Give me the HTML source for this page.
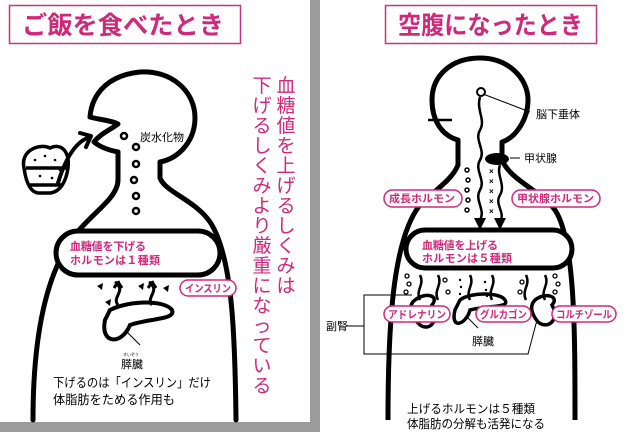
<!DOCTYPE html>
<html><head><meta charset="utf-8"><style>
body{margin:0;width:630px;height:432px;overflow:hidden;background:#fff}
svg{display:block}
text{font-family:"Liberation Sans","Noto Sans CJK JP",sans-serif}
</style></head><body>
<svg width="630" height="432" viewBox="0 0 630 432" xmlns="http://www.w3.org/2000/svg">
<rect x="0" y="0" width="630" height="432" fill="#fff"/>
<rect x="310" y="0" width="10" height="432" fill="#9b9b9b"/>
<rect x="0" y="422" width="320" height="10" fill="#9b9b9b"/>

<!-- LEFT PANEL -->
<rect x="9.5" y="5.5" width="231" height="38" fill="#fff" stroke="#c8357f" stroke-width="1.5"/>
<text x="22" y="34" font-size="25" font-weight="bold" fill="#d2287a" textLength="202" lengthAdjust="spacingAndGlyphs">ご飯を食べたとき</text>

<g fill="none" stroke="#000" stroke-width="5" stroke-linejoin="round" stroke-linecap="round">
<path d="M33,420 C33,330 48,270 75,235 C92,213 118,198 118,180 L118,152 C108,150 100,147 94,142 C100,134 110,130 118,124 C110,120 100,120 90,117 C92,92 110,75 140,72 C170,70 195,90 195,118 C195,140 180,158 160,162 L160,178 C165,192 195,200 210,222 C232,255 235,330 236,420"/>
<path d="M58,183 C68,150 80,140 90,137" stroke-width="4"/>
<path d="M80,133 L91,136 L86,147" stroke-width="4"/>
</g>
<!-- rice bowl -->
<g fill="none" stroke="#000" stroke-width="3.5">
<path d="M24,168 C20,150 40,143 50,148 C60,143 70,150 68,168 C66,182 60,192 50,193 L38,193 C30,192 26,182 24,168Z"/>
<path d="M26,168 L67,168"/>
<path d="M30,185 L62,185"/>
</g>
<g fill="#000"><circle cx="35" cy="160" r="1.3"/><circle cx="45" cy="156" r="1.3"/><circle cx="55" cy="160" r="1.3"/><circle cx="40" cy="176" r="1.3"/><circle cx="52" cy="178" r="1.3"/><circle cx="60" cy="170" r="1.3"/></g>
<g fill="none" stroke="#000" stroke-width="2.5">
<circle cx="124" cy="136" r="3"/><circle cx="136" cy="147" r="3"/><circle cx="136" cy="164" r="3"/><circle cx="134" cy="180" r="3"/><circle cx="136" cy="196" r="3"/><circle cx="136" cy="211" r="3"/>
</g>
<text x="140" y="141" font-size="11" fill="#000" textLength="44">炭水化物</text>
<rect x="56" y="231" width="164" height="44" rx="22" fill="#fff" stroke="#000" stroke-width="5"/>
<text x="70" y="250" font-size="11" font-weight="bold" fill="#d2287a" textLength="76">血糖値を下げる</text>
<text x="70" y="264" font-size="11" font-weight="bold" fill="#d2287a" textLength="90">ホルモンは１種類</text>
<g fill="none" stroke="#000" stroke-width="3">
<path d="M118,305 C112,298 124,292 118,285 C112,278 122,290 118,281"/>
<path d="M118,282 L114,288 M118,282 L122,288"/>
<path d="M152,305 C146,298 158,292 152,285 C146,278 156,290 152,281"/>
<path d="M152,282 L148,288 M152,282 L156,288"/>
<path d="M110,310 C130,300 165,300 172,310 C176,320 150,318 130,325 C122,345 100,345 105,320 Z" stroke-width="4"/>
<path d="M125,330 L140,345" stroke-width="1"/>
</g>
<g fill="#000"><path d="M97,286 l6,-3 -1,7z"/><path d="M138,286 l6,-3 -1,7z"/><path d="M163,288 l6,-3 -1,7z"/><path d="M105,302 l6,-3 -1,7z"/></g>
<rect x="180" y="280" width="56" height="16" rx="8" fill="#fff" stroke="#d2287a" stroke-width="1.5"/>
<text x="185" y="292" font-size="10.5" font-weight="bold" fill="#d2287a" textLength="46" lengthAdjust="spacingAndGlyphs">インスリン</text>
<text x="123" y="356" font-size="4" fill="#000">すいぞう</text>
<text x="121" y="368" font-size="11" fill="#000">膵臓</text>
<text x="53" y="387" font-size="12.5" fill="#000" textLength="158" lengthAdjust="spacingAndGlyphs">下げるのは「インスリン」だけ</text>
<text x="53" y="404" font-size="12.5" fill="#000" textLength="122" lengthAdjust="spacingAndGlyphs">体脂肪をためる作用も</text>
<g font-size="19" fill="#d2287a" text-anchor="middle">
<text x="286" y="92">血</text><text x="286" y="112">糖</text><text x="286" y="132">値</text><text x="286" y="152">を</text><text x="286" y="172">上</text><text x="286" y="192">げ</text><text x="286" y="212">る</text><text x="286" y="232">し</text><text x="286" y="252">く</text><text x="286" y="272">み</text><text x="286" y="292">は</text>
<text x="262" y="92">下</text><text x="262" y="112">げ</text><text x="262" y="132">る</text><text x="262" y="152">し</text><text x="262" y="172">く</text><text x="262" y="192">み</text><text x="262" y="212">よ</text><text x="262" y="232">り</text><text x="262" y="252">厳</text><text x="262" y="272">重</text><text x="262" y="292">に</text><text x="262" y="312">な</text><text x="262" y="332">っ</text><text x="262" y="352">て</text><text x="262" y="372">い</text><text x="262" y="392">る</text>
</g>

<!-- RIGHT PANEL -->
<rect x="385.5" y="5.5" width="211" height="38" fill="#fff" stroke="#c8357f" stroke-width="1.5"/>
<text x="398" y="34" font-size="25" font-weight="bold" fill="#d2287a" textLength="185" lengthAdjust="spacingAndGlyphs">空腹になったとき</text>
<g fill="none" stroke="#000" stroke-width="5" stroke-linejoin="round">
<path d="M388,420 C388,330 392,240 420,205 C435,190 452,180 458,165 L458,140 C440,135 432,118 432,100 C432,75 452,58 480,58 C508,58 528,78 528,100 C528,120 515,138 502,142 L502,160 C510,180 540,190 555,210 C575,240 575,330 575,420"/>
</g>
<path d="M428,120 L452,120" stroke="#000" stroke-width="2.5"/>
<circle cx="481" cy="92" r="4" fill="#fff" stroke="#000" stroke-width="2"/>
<path d="M483,94 L530,112" stroke="#000" stroke-width="1"/>
<text x="536" y="118" font-size="11" fill="#000">脳下垂体</text>
<g fill="none" stroke="#000" stroke-width="2.5">
<path d="M480,97 C476,110 486,120 480,130 C474,140 486,150 480,160 C474,170 486,180 480,190 C474,200 486,210 480,220"/>
<path d="M500,165 C496,175 506,185 500,195 C494,205 506,212 500,222"/>
</g>
<path d="M474,218 L480,230 L486,218Z M494,218 L500,230 L506,218Z" fill="#000"/>
<ellipse cx="497" cy="159" rx="12" ry="6" fill="#000"/>
<path d="M510,158 L520,158" stroke="#000" stroke-width="1"/>
<text x="524" y="162" font-size="11" fill="#000">甲状腺</text>
<g fill="none" stroke="#000" stroke-width="1.5">
<circle cx="467" cy="170" r="2"/><circle cx="468" cy="180" r="2"/><circle cx="467" cy="190" r="2"/><circle cx="468" cy="200" r="2"/><circle cx="467" cy="210" r="2"/>
</g>
<g font-size="8" fill="#000" font-weight="bold"><text x="489" y="174">×</text><text x="489" y="184">×</text><text x="489" y="194">×</text><text x="489" y="204">×</text><text x="489" y="214">×</text></g>
<rect x="384" y="190" width="78" height="17" rx="8.5" fill="#fff" stroke="#d2287a" stroke-width="1.5"/>
<text x="389" y="202" font-size="10.5" font-weight="bold" fill="#d2287a" textLength="66" lengthAdjust="spacingAndGlyphs">成長ホルモン</text>
<rect x="512" y="190" width="88" height="17" rx="8.5" fill="#fff" stroke="#d2287a" stroke-width="1.5"/>
<text x="517" y="202" font-size="10.5" font-weight="bold" fill="#d2287a" textLength="77" lengthAdjust="spacingAndGlyphs">甲状腺ホルモン</text>
<rect x="406" y="230" width="166" height="38" rx="19" fill="#fff" stroke="#000" stroke-width="5"/>
<text x="422" y="249" font-size="11" font-weight="bold" fill="#d2287a" textLength="76">血糖値を上げる</text>
<text x="422" y="262" font-size="11" font-weight="bold" fill="#d2287a" textLength="90">ホルモンは５種類</text>
<g fill="none" stroke="#000" stroke-width="2.5">
<path d="M420,300 C415,290 425,285 420,275"/><path d="M438,300 C433,290 443,285 438,275"/>
<path d="M470,300 C465,290 475,285 470,275"/><path d="M492,300 C487,290 497,285 492,275"/>
<path d="M526,300 C521,290 531,285 526,275"/><path d="M545,300 C540,290 550,285 545,275"/>
<path d="M415,300 C425,292 440,295 432,305 C440,320 430,332 420,325 C410,315 408,305 415,300Z" stroke-width="3.5"/>
<path d="M460,300 C470,292 500,292 505,300 C510,308 490,305 470,310 C466,325 450,330 455,310 Z" stroke-width="3.5"/>
<path d="M535,300 C545,292 560,296 552,305 C560,320 548,330 538,322 C530,312 530,305 535,300Z" stroke-width="3.5"/>
</g>
<g fill="none" stroke="#000" stroke-width="1.3">
<circle cx="407" cy="276" r="2"/><circle cx="409" cy="284" r="2"/><circle cx="406" cy="292" r="2"/><circle cx="445" cy="280" r="2"/><circle cx="448" cy="292" r="2"/>
<circle cx="555" cy="276" r="2"/><circle cx="558" cy="284" r="2"/><circle cx="555" cy="292" r="2"/><circle cx="522" cy="282" r="2"/><circle cx="520" cy="292" r="2"/>
</g>
<g fill="#000"><circle cx="460" cy="280" r="1.2"/><circle cx="461" cy="287" r="1.2"/><circle cx="460" cy="294" r="1.2"/><circle cx="485" cy="282" r="1.2"/><circle cx="486" cy="290" r="1.2"/><circle cx="487" cy="296" r="1.2"/></g>
<path d="M412,295 L364,295 L364,354 L528,354 L537,320" fill="none" stroke="#000" stroke-width="1"/>
<path d="M346,326 L364,326" stroke="#000" stroke-width="1"/>
<rect x="384" y="306" width="66" height="16" rx="8" fill="#fff" stroke="#d2287a" stroke-width="1.5"/>
<text x="388" y="318" font-size="10.5" font-weight="bold" fill="#d2287a" textLength="58" lengthAdjust="spacingAndGlyphs">アドレナリン</text>
<rect x="476" y="306" width="55" height="16" rx="8" fill="#fff" stroke="#d2287a" stroke-width="1.5"/>
<text x="480" y="318" font-size="10.5" font-weight="bold" fill="#d2287a" textLength="47" lengthAdjust="spacingAndGlyphs">グルカゴン</text>
<rect x="552" y="306" width="64" height="16" rx="8" fill="#fff" stroke="#d2287a" stroke-width="1.5"/>
<text x="556" y="318" font-size="10.5" font-weight="bold" fill="#d2287a" textLength="56" lengthAdjust="spacingAndGlyphs">コルチゾール</text>
<text x="326" y="330" font-size="11" fill="#000">副腎</text>
<path d="M468,318 L478,328" stroke="#000" stroke-width="1"/>
<text x="472" y="345" font-size="11" fill="#000">膵臓</text>
<text x="407" y="413" font-size="12" fill="#000" textLength="128" lengthAdjust="spacingAndGlyphs">上げるホルモンは５種類</text>
<text x="407" y="428" font-size="12" fill="#000" textLength="138" lengthAdjust="spacingAndGlyphs">体脂肪の分解も活発になる</text>
</svg>
</body></html>
